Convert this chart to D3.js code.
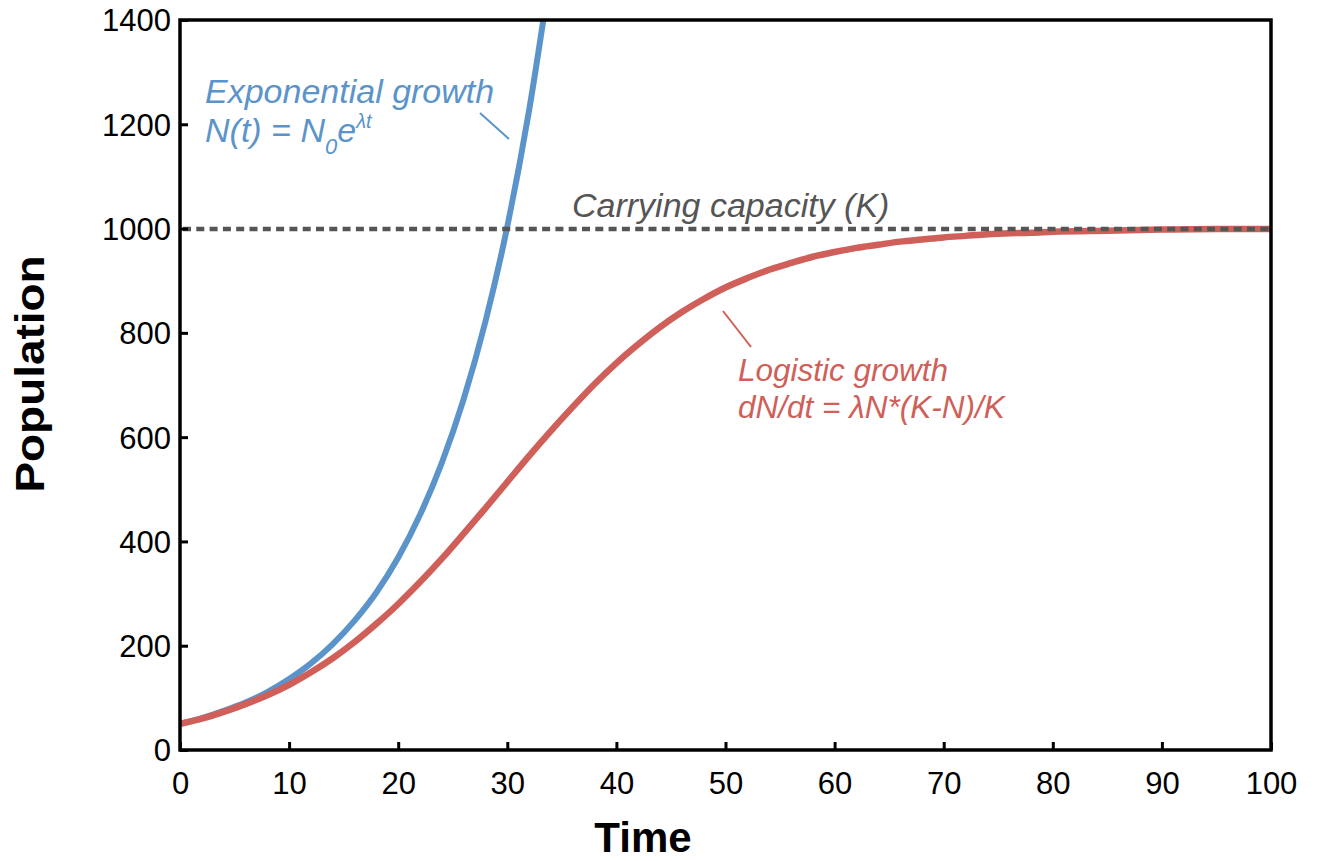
<!DOCTYPE html>
<html>
<head>
<meta charset="utf-8">
<script src="https://cdn.jsdelivr.net/npm/d3@7"></script>
<style>
  body { margin: 0; background: #fff; }
  text { font-family: "Liberation Sans", Arial, Helvetica, sans-serif; }
</style>
</head>
<body>
<div class="chart"></div>
<script>
// values
var expTime = [0, 2, 4, 6, 8, 10, 12, 14, 16, 18, 20, 22, 24, 26, 28, 30, 32, 34]
var expPop = [50, 61, 75, 91, 111, 136, 166, 203, 248, 302, 369, 451, 551, 673, 822, 1004, 1227, 1498]

var logTime = [0, 2, 4, 6, 8, 10, 12, 14, 16, 18, 20, 22, 24, 26, 28, 30, 32, 34, 36, 38, 40,
  42, 44, 46, 48, 50, 52, 54, 56, 58, 60, 62, 64, 66, 68, 70, 72, 74, 76, 78, 80, 85, 90, 95, 100]
var logPop = [50, 60, 73, 88, 105, 125, 149, 176, 207, 242, 280, 322, 367, 415, 464, 514, 564, 612, 658, 702, 742,
  778, 811, 840, 865, 887, 905, 921, 934, 946, 955, 963, 969, 975, 979, 983, 986, 989, 991, 992, 994, 996, 998, 999, 999]

var capacity = 1000
var xTicks = [0, 10, 20, 30, 40, 50, 60, 70, 80, 90, 100]
var yTicks = [0, 200, 400, 600, 800, 1000, 1200, 1400]

document.addEventListener("DOMContentLoaded", drawChart)

function drawChart() {
  var width = 1320,
    height = 861,
    plotL = 180, plotR = 1271, plotT = 20, plotB = 750

  var blue = "#5b94ca",
    red = "#cf5f58",
    gray = "#555555"

  var svg = d3.select(".chart").append("svg")
    .attr("width", width)
    .attr("height", height)

  var x = d3.scaleLinear().domain([0, 100]).range([plotL, plotR])
  var y = d3.scaleLinear().domain([0, 1400]).range([plotB, plotT])

  svg.append("clipPath").attr("id", "plot")
    .append("rect")
    .attr("x", plotL).attr("y", plotT)
    .attr("width", plotR - plotL).attr("height", plotB - plotT)

  var line = d3.line()
    .x(function(d) { return x(d[0]) })
    .y(function(d) { return y(d[1]) })
    .curve(d3.curveMonotoneX)

  var curves = svg.append("g").attr("clip-path", "url(#plot)")

  curves.append("path")
    .datum(d3.zip(expTime, expPop))
    .attr("d", line)
    .attr("fill", "none")
    .attr("stroke", blue)
    .attr("stroke-width", 6)

  curves.append("path")
    .datum(d3.zip(logTime, logPop))
    .attr("d", line)
    .attr("fill", "none")
    .attr("stroke", red)
    .attr("stroke-width", 6.5)
    .attr("stroke-linecap", "round")

  curves.append("line")
    .attr("x1", x(0) + 3).attr("x2", x(100))
    .attr("y1", Math.round(y(capacity))).attr("y2", Math.round(y(capacity)))
    .attr("stroke", gray)
    .attr("stroke-width", 4.5)
    .attr("stroke-dasharray", "8,5.3")

  // axes, ticks pointing inward
  var xAxis = svg.append("g")
    .attr("transform", `translate(0,${plotB})`)
    .call(d3.axisBottom(x).tickValues(xTicks).tickSizeInner(-8).tickSizeOuter(0).tickFormat(d3.format("d")))

  var yAxis = svg.append("g")
    .attr("transform", `translate(${plotL},0)`)
    .call(d3.axisLeft(y).tickValues(yTicks).tickSizeInner(-8).tickSizeOuter(0).tickFormat(d3.format("d")))

  ;[xAxis, yAxis].forEach(function(a) {
    a.select(".domain").remove()
    a.selectAll(".tick line").attr("stroke", "#000").attr("stroke-width", 3)
    a.selectAll(".tick text")
      .attr("fill", "#000")
      .style("font-size", "31px")
  })
  xAxis.selectAll(".tick text").attr("y", 22).attr("dy", "0.71em")
  yAxis.selectAll(".tick text").attr("x", -9).attr("dy", "0.35em")

  svg.append("rect")
    .attr("x", plotL).attr("y", plotT)
    .attr("width", plotR - plotL).attr("height", plotB - plotT)
    .attr("fill", "none")
    .attr("stroke", "#000")
    .attr("stroke-width", 3.5)

  // axis titles
  svg.append("text")
    .attr("x", 643).attr("y", 852)
    .attr("text-anchor", "middle")
    .style("font-size", "42px")
    .style("font-weight", "bold")
    .text("Time")

  svg.append("text")
    .attr("transform", "translate(44,374) rotate(-90)")
    .attr("text-anchor", "middle")
    .attr("textLength", 237)
    .attr("lengthAdjust", "spacingAndGlyphs")
    .style("font-size", "40px")
    .style("font-weight", "bold")
    .text("Population")

  // annotations
  var ann = svg.append("g").style("font-style", "italic").style("font-size", "34px")

  ann.append("text")
    .attr("x", 205).attr("y", 103)
    .attr("fill", blue)
    .text("Exponential growth")

  var eq = ann.append("text")
    .attr("x", 205).attr("y", 142)
    .attr("fill", blue)
  eq.append("tspan").text("N(t) = N")
  eq.append("tspan").attr("dy", 12).style("font-size", "22px").text("0")
  eq.append("tspan").attr("dy", -12).text("e")
  eq.append("tspan").attr("dy", -14).style("font-size", "20px").text("λt")

  svg.append("line")
    .attr("x1", 480).attr("y1", 113).attr("x2", 509).attr("y2", 139)
    .attr("stroke", blue).attr("stroke-width", 2)

  ann.append("text")
    .attr("x", 572).attr("y", 217)
    .attr("fill", gray)
    .text("Carrying capacity (K)")

  svg.append("line")
    .attr("x1", 723).attr("y1", 311).attr("x2", 751).attr("y2", 347)
    .attr("stroke", red).attr("stroke-width", 2)

  ann.append("text")
    .attr("x", 738).attr("y", 381)
    .attr("fill", red)
    .style("font-size", "31.5px")
    .text("Logistic growth")

  ann.append("text")
    .attr("x", 738).attr("y", 418)
    .attr("fill", red)
    .style("font-size", "31.5px")
    .text("dN/dt = λN*(K-N)/K")
}
</script>
</body>
</html>
